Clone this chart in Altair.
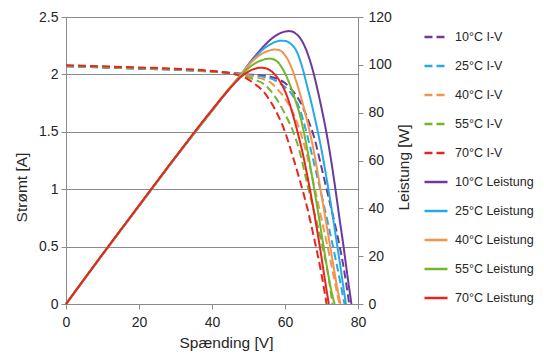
import altair as alt
import pandas as pd

# ---------------- data ----------------
series_order = ["10°C I-V", "25°C I-V", "40°C I-V", "55°C I-V", "70°C I-V",
                "10°C Leistung", "25°C Leistung", "40°C Leistung", "55°C Leistung", "70°C Leistung"]
series_colors = ["#6B3A9B", "#27AAE1", "#F6934A", "#72B530", "#E8241F",
                 "#6B3A9B", "#27AAE1", "#F6934A", "#72B530", "#E8241F"]

# I-V curves (current in A)
v_iv_10 = [0, 10, 20, 30, 40, 45, 50, 54, 56, 58, 60, 62, 64, 66, 68, 70, 72, 74, 76, 77.6]
i_iv_10 = [2.07, 2.06, 2.05, 2.04, 2.025, 2.015, 2.0, 1.99, 1.98, 1.96, 1.925, 1.86, 1.77, 1.63, 1.45, 1.19, 0.92, 0.65, 0.33, 0]

v_iv_25 = [0, 10, 20, 30, 40, 45, 50, 54, 56, 58, 60, 62, 64, 66, 68, 70, 72, 74, 76, 76.3]
i_iv_25 = [2.07, 2.06, 2.05, 2.04, 2.025, 2.012, 1.995, 1.98, 1.965, 1.935, 1.89, 1.82, 1.70, 1.48, 1.22, 0.95, 0.67, 0.37, 0.05, 0]

v_iv_40 = [0, 10, 20, 30, 40, 45, 50, 52, 54, 56, 58, 60, 62, 64, 66, 68, 70, 72, 74, 74.9]
i_iv_40 = [2.075, 2.065, 2.055, 2.045, 2.025, 2.012, 1.99, 1.975, 1.96, 1.93, 1.87, 1.79, 1.68, 1.52, 1.30, 1.03, 0.74, 0.45, 0.14, 0]

v_iv_55 = [0, 10, 20, 30, 40, 45, 48, 50, 52, 54, 56, 58, 60, 62, 64, 66, 68, 70, 72, 73.0]
i_iv_55 = [2.075, 2.065, 2.055, 2.045, 2.025, 2.01, 1.995, 1.975, 1.95, 1.92, 1.86, 1.77, 1.655, 1.52, 1.33, 1.06, 0.80, 0.54, 0.22, 0]

v_iv_70 = [0, 10, 20, 30, 40, 45, 48, 50, 52, 54, 56, 58, 60, 62, 64, 66, 68, 70, 71.4]
i_iv_70 = [2.08, 2.07, 2.06, 2.05, 2.03, 2.01, 1.985, 1.955, 1.91, 1.855, 1.765, 1.65, 1.50, 1.30, 1.085, 0.85, 0.57, 0.26, 0]

# Power curves (W)
v_p_10 = [0, 10, 20, 30, 40, 45, 48, 50, 52, 54, 56, 58, 60, 61, 62, 63, 64, 65, 66, 67, 68, 69, 70, 71, 72, 73, 74, 75, 76, 77, 78.2]
p_10 = [0, 20.7, 41, 61.3, 80.8, 90.5, 96, 100.2, 104, 107.5, 110.5, 112.7, 113.9, 114.1, 113.9, 113, 111.5, 109, 105.5, 101, 95.5, 89, 82, 74.5, 66, 56.5, 46, 35, 24.5, 13, 0]

v_p_25 = [0, 10, 20, 30, 40, 45, 48, 50, 52, 54, 56, 58, 59, 60, 61, 62, 63, 64, 65, 66, 67, 68, 69, 70, 71, 72, 73, 74, 75, 76, 76.7]
p_25 = [0, 20.7, 41, 61.3, 80.8, 90.5, 96, 100, 103.5, 106.5, 108.6, 109.9, 110.1, 110, 109.4, 108.2, 106.2, 102.5, 97.5, 91.5, 85.5, 79, 72, 64.5, 56, 47, 37.5, 27.5, 17.5, 7, 0]

v_p_40 = [0, 10, 20, 30, 40, 45, 48, 50, 52, 54, 56, 57.3, 58.5, 60, 61, 62, 63, 64, 65, 66, 67, 68, 69, 70, 71, 72, 73, 74, 75.2]
p_40 = [0, 20.7, 41.1, 61.4, 81, 90.7, 96, 99.8, 102.8, 104.9, 106.1, 106.4, 106.1, 104, 101.5, 98, 93.5, 88.5, 83, 77, 70.5, 63, 54.5, 45.5, 36.5, 27.5, 18.5, 9.5, 0]

v_p_55 = [0, 10, 20, 30, 40, 45, 48, 50, 52, 54, 55.8, 57, 58, 59, 60, 61, 62, 63, 64, 65, 66, 67, 68, 69, 70, 71, 72, 73, 73.6]
p_55 = [0, 20.7, 41.1, 61.4, 81, 90.5, 95.5, 98.6, 100.8, 102.1, 102.6, 102.2, 101.2, 99.2, 96.5, 93, 89, 84.5, 79.5, 73, 65.5, 57, 48, 39, 29.5, 20, 11, 3.5, 0]

v_p_70 = [0, 10, 20, 30, 40, 45, 48, 50, 52, 53.5, 55, 56, 57, 58, 59, 60, 61, 62, 63, 64, 65, 66, 67, 68, 69, 70, 71, 72]
p_70 = [0, 20.8, 41.2, 61.5, 81.2, 90.3, 95, 97.2, 98.5, 98.8, 98.4, 97.6, 96.3, 94.5, 92, 89, 85, 80, 74.5, 68.5, 62, 54.5, 46.5, 38, 29, 19.5, 9.5, 0]

x_ticks = [0, 20, 40, 60, 80]
y_left_ticks = [0, 0.5, 1, 1.5, 2, 2.5]
y_right_ticks = [0, 20, 40, 60, 80, 100, 120]

# ---------------- build table ----------------
iv_sets = [(series_order[0], v_iv_10, i_iv_10), (series_order[1], v_iv_25, i_iv_25),
           (series_order[2], v_iv_40, i_iv_40), (series_order[3], v_iv_55, i_iv_55),
           (series_order[4], v_iv_70, i_iv_70)]
p_sets = [(series_order[5], v_p_10, p_10), (series_order[6], v_p_25, p_25),
          (series_order[7], v_p_40, p_40), (series_order[8], v_p_55, p_55),
          (series_order[9], v_p_70, p_70)]

rows = []
for k, (name, vs, ys) in enumerate(iv_sets):
    for v, y in zip(vs, ys):
        rows.append({"V": v, "val": y, "series": name, "kind": "iv", "rank": k})
for k, (name, vs, ys) in enumerate(p_sets):
    for v, y in zip(vs, ys):
        rows.append({"V": v, "val": y, "series": name, "kind": "p", "rank": k})
df = pd.DataFrame(rows)

FONT = "Liberation Sans"
TXT = "#262626"
AX = "#8a8a8a"

dash_range = [[8, 4]] * 5 + [[1, 0]] * 5

legend = alt.Legend(
    title=None, orient="none", legendX=357, legendY=7,
    symbolType="stroke", symbolSize=530, symbolStrokeWidth=2.5,
    labelFont=FONT, labelFontSize=12.5, labelColor=TXT, labelOffset=6,
    rowPadding=9, padding=0, symbolOpacity=1,
)

base = alt.Chart(df).encode(
    x=alt.X("V:Q", scale=alt.Scale(domain=[0, 80], nice=False),
            axis=alt.Axis(values=x_ticks, title="Spænding [V]", grid=False, labelFlush=False,
                          domainColor=AX, tickColor=AX, tickSize=5, labelPadding=6,
                          labelFont=FONT, labelFontSize=14, labelColor=TXT,
                          titleFont=FONT, titleFontSize=15.5, titleFontWeight="normal",
                          titleColor=TXT, titleX=160, titleY=38, titleBaseline="middle",
                          titleAlign="center")),
    color=alt.Color("series:N", scale=alt.Scale(domain=series_order, range=series_colors),
                    legend=legend),
    strokeDash=alt.StrokeDash("series:N", scale=alt.Scale(domain=series_order, range=dash_range),
                              legend=legend),
)

iv = base.transform_filter(alt.datum.kind == "iv").mark_line(
    strokeWidth=2, interpolate="monotone").encode(
    y=alt.Y("val:Q", scale=alt.Scale(domain=[0, 2.5], nice=False),
            axis=alt.Axis(values=y_left_ticks, format="~g", title="Strømt [A]",
                          grid=True, gridColor=AX, gridWidth=1, labelFlush=False,
                          domainColor=AX, tickColor=AX, tickSize=5, labelPadding=3,
                          labelFont=FONT, labelFontSize=14, labelColor=TXT,
                          titleFont=FONT, titleFontSize=15.5, titleFontWeight="normal",
                          titleColor=TXT, titleAngle=270, titleX=-45, titleY=170,
                          titleBaseline="middle", titleAlign="center"))
)

pw = base.transform_filter(alt.datum.kind == "p").mark_line(
    strokeWidth=2, interpolate="monotone").encode(
    y=alt.Y("val:Q", scale=alt.Scale(domain=[0, 120], nice=False),
            axis=alt.Axis(orient="right", values=y_right_ticks, title="Leistung  [W]",
                          grid=False, domainColor=AX, tickColor=AX, tickSize=5, labelFlush=False,
                          labelPadding=5, labelFont=FONT, labelFontSize=14, labelColor=TXT,
                          titleFont=FONT, titleFontSize=15.5, titleFontWeight="normal",
                          titleColor=TXT, titleAngle=270, titleX=45, titleY=150,
                          titleBaseline="middle", titleAlign="center"))
)

chart = alt.layer(iv, pw).resolve_scale(y="independent").properties(
    width=292, height=287,
    padding={"left": 58, "top": 9, "right": 178, "bottom": 54},
    autosize=alt.AutoSizeParams(type="none"),
).configure_view(strokeWidth=0).configure(background="white")

chart.save("out.html", embed_options={"renderer": "svg", "actions": False})
